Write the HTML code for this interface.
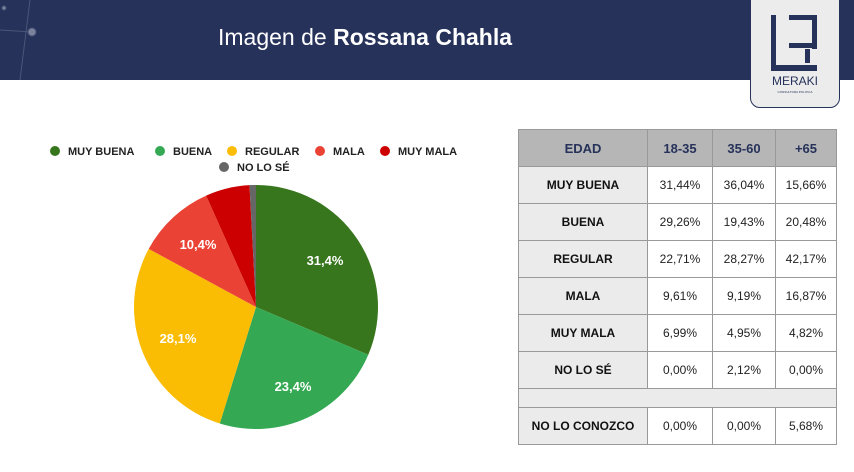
<!DOCTYPE html>
<html><head><meta charset="utf-8"><style>
body{margin:0;width:854px;height:472px;background:#fff;position:relative;overflow:hidden;font-family:"Liberation Sans",sans-serif}
.hdr{position:absolute;left:0;top:0;width:854px;height:80px;background:#26325a}
.title{position:absolute;left:218px;top:24px;font-size:23px;color:#fff}
.logo{position:absolute;left:750px;top:-4px;width:88px;height:110px;background:#ececec;border:1px solid #26325a;border-radius:0 0 10px 10px}
table{position:absolute;left:518px;top:129px;border-collapse:collapse;font-size:12px;table-layout:fixed;width:318px}
td{border:1px solid #999;text-align:center;height:36px;padding:0;color:#222}
th{border:1px solid #999;background:#b6b6b6;color:#26325a;font-size:13px;height:36px;padding:0}
td.l{background:#ebebeb;font-weight:bold;color:#111}
</style></head><body>
<div class="hdr"></div>
<svg style="position:absolute;left:0;top:0" width="110" height="80"><g stroke="#4a5579" stroke-width="1" fill="#7a829c"><line x1="0" y1="30" x2="32" y2="32"/><line x1="30" y1="0" x2="20" y2="80"/><circle cx="32" cy="32" r="4"/><circle cx="4" cy="8" r="2"/></g></svg>
<div class="title">Imagen de <b>Rossana Chahla</b></div>
<div class="logo"><svg width="88" height="110"><g fill="#26325a"><rect x="20" y="18" width="5" height="56"/><rect x="20" y="68" width="46" height="6"/><rect x="38" y="18" width="28" height="5"/><rect x="61" y="18" width="5" height="34"/><rect x="38" y="46" width="28" height="5"/><rect x="54" y="52" width="5" height="14"/></g><text x="44" y="88" font-size="12" text-anchor="middle" fill="#26325a" font-family="Liberation Sans">MERAKI</text><text x="44" y="96" font-size="3" text-anchor="middle" fill="#26325a">CONSULTORA POLITICA</text></svg></div>
<svg style="position:absolute;left:0;top:0" width="510" height="472" font-family="Liberation Sans" font-weight="bold" font-size="11">
<g fill="#222">
<circle cx="55" cy="151" r="5" fill="#38761d"/><text x="68" y="155">MUY BUENA</text>
<circle cx="160" cy="151" r="5" fill="#34a853"/><text x="173" y="155">BUENA</text>
<circle cx="232" cy="151" r="5" fill="#fbbc04"/><text x="245" y="155">REGULAR</text>
<circle cx="320" cy="151" r="5" fill="#ea4335"/><text x="333" y="155">MALA</text>
<circle cx="385" cy="151" r="5" fill="#cc0000"/><text x="398" y="155">MUY MALA</text>
<circle cx="224" cy="167" r="5" fill="#666"/><text x="237" y="171">NO LO SÉ</text>
</g>
<g id="pie"></g>
<g fill="#fff" font-size="13" text-anchor="middle">
<text x="325" y="265">31,4%</text><text x="293" y="391">23,4%</text><text x="178" y="343">28,1%</text><text x="198" y="249">10,4%</text></g>
</svg>
<script>
var v=[[31.4,"#38761d"],[23.4,"#34a853"],[28.1,"#fbbc04"],[10.4,"#ea4335"],[5.85,"#cc0000"],[0.85,"#666"]];
var cx=256,cy=307,r=122,a=0,s="";
v.forEach(function(d){var a2=a+d[0]/100*2*Math.PI;
var x1=cx+r*Math.sin(a),y1=cy-r*Math.cos(a),x2=cx+r*Math.sin(a2),y2=cy-r*Math.cos(a2);
s+='<path d="M'+cx+' '+cy+'L'+x1+' '+y1+'A'+r+' '+r+' 0 '+((a2-a)>Math.PI?1:0)+' 1 '+x2+' '+y2+'Z" fill="'+d[1]+'"/>';a=a2;});
document.getElementById("pie").innerHTML=s;
</script>
<table>
<colgroup><col style="width:129px"><col style="width:65px"><col style="width:63px"><col style="width:61px"></colgroup>
<tr><th>EDAD</th><th>18-35</th><th>35-60</th><th>+65</th></tr>
<tr><td class="l">MUY BUENA</td><td>31,44%</td><td>36,04%</td><td>15,66%</td></tr>
<tr><td class="l">BUENA</td><td>29,26%</td><td>19,43%</td><td>20,48%</td></tr>
<tr><td class="l">REGULAR</td><td>22,71%</td><td>28,27%</td><td>42,17%</td></tr>
<tr><td class="l">MALA</td><td>9,61%</td><td>9,19%</td><td>16,87%</td></tr>
<tr><td class="l">MUY MALA</td><td>6,99%</td><td>4,95%</td><td>4,82%</td></tr>
<tr><td class="l">NO LO SÉ</td><td>0,00%</td><td>2,12%</td><td>0,00%</td></tr>
<tr><td colspan="4" style="height:18px;background:#ebebeb"></td></tr>
<tr><td class="l">NO LO CONOZCO</td><td>0,00%</td><td>0,00%</td><td>5,68%</td></tr>
</table>
</body></html>
